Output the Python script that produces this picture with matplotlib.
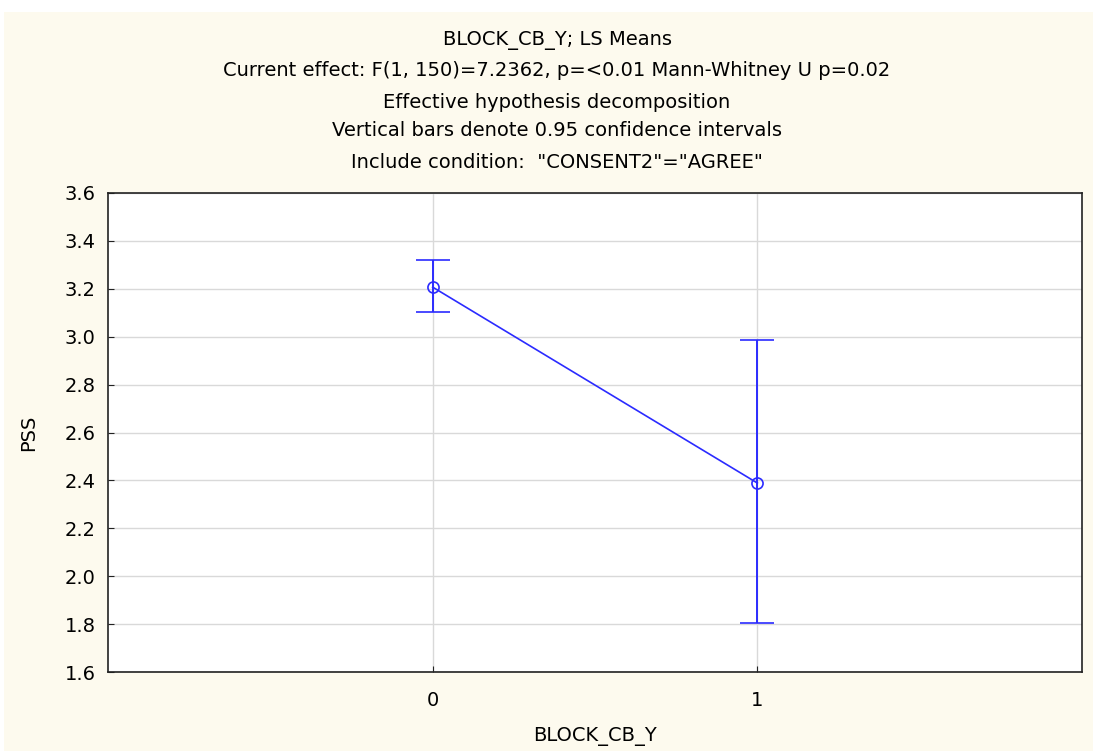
import matplotlib.pyplot as plt
import matplotlib.patches as patches

plt.rcParams['font.family'] = ['DejaVu Sans']

# data
groups = [0, 1]
means = [3.207, 2.389]
ci_low = [3.105, 1.805]
ci_high = [3.320, 2.986]

title_lines = [
    'BLOCK_CB_Y; LS Means',
    'Current effect: F(1, 150)=7.2362, p=<0.01 Mann-Whitney U p=0.02',
    'Effective hypothesis decomposition',
    'Vertical bars denote 0.95 confidence intervals',
    'Include condition:  "CONSENT2"="AGREE"',
]
yticks = [1.6, 1.8, 2.0, 2.2, 2.4, 2.6, 2.8, 3.0, 3.2, 3.4, 3.6]

FS = 14

fig = plt.figure(figsize=(10.93, 7.51), dpi=100)
fig.patch.set_facecolor('white')
# cream panel behind everything
bg = patches.Rectangle((0.004, 0), 0.996, 1 - 12 / 751, transform=fig.transFigure,
                       facecolor='#fdfaee', edgecolor='none', zorder=-10)
fig.add_artist(bg)

ax = fig.add_axes([108 / 1093, 1 - 672 / 751, (1082 - 108) / 1093, (672 - 193) / 751])
ax.set_facecolor('white')

yerr = [[m - lo for m, lo in zip(means, ci_low)],
        [hi - m for m, hi in zip(means, ci_high)]]
color = '#2b2bff'
ax.errorbar(groups, means, yerr=yerr, color=color, lw=1.2, capsize=12,
            capthick=1.4, elinewidth=1.4, marker='o', markersize=8,
            markerfacecolor='none', markeredgecolor=color, markeredgewidth=1.2,
            zorder=3)

ax.set_xlim(-1, 2)
ax.set_ylim(1.6, 3.6)
ax.set_xticks(groups)
ax.set_yticks(yticks)
ax.set_yticklabels([f'{v:.1f}' for v in yticks])
ax.grid(True, color='#d9d9d9', lw=1)
ax.set_axisbelow(True)
for s in ax.spines.values():
    s.set_color('#222222')
    s.set_linewidth(1.2)
ax.tick_params(axis='both', labelsize=FS, length=4, direction='in', color='#222222')
ax.tick_params(axis='y', pad=9)
ax.tick_params(axis='x', pad=14)

ax.set_ylabel('PSS', fontsize=FS)
ax.yaxis.set_label_coords((38 - 108) / 974, 0.5)
ax.set_xlabel('BLOCK_CB_Y', fontsize=FS, va='center')
ax.xaxis.set_label_coords(0.5, -(737 - 672) / 479)

ys = [40, 71, 102, 131, 162]
for line, y in zip(title_lines, ys):
    fig.text(557 / 1093, 1 - y / 751, line, ha='center', va='center', fontsize=FS)

fig.savefig('out.png', dpi=100, facecolor=fig.get_facecolor())
